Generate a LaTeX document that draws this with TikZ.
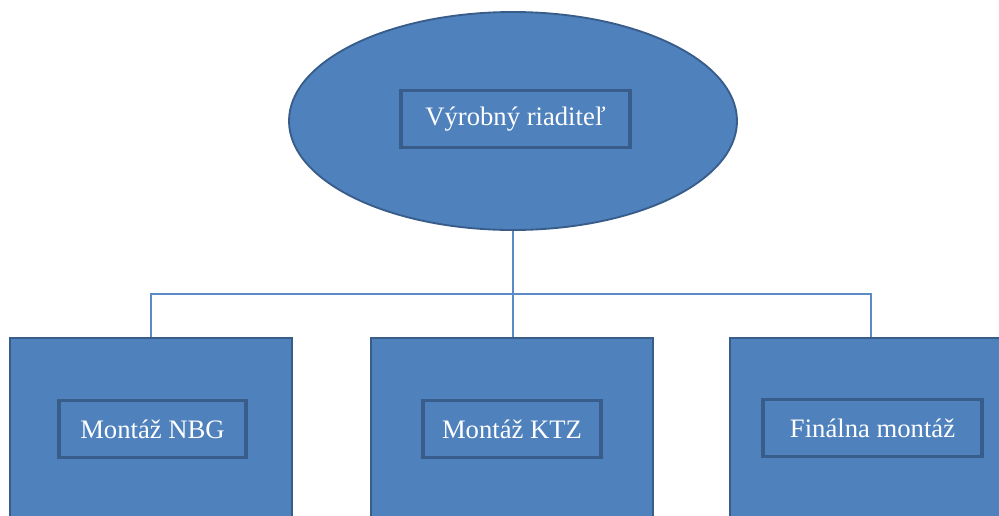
\documentclass[tikz,border=0pt]{standalone}
\usepackage{fontspec}
\setmainfont{Liberation Serif}
\usetikzlibrary{shapes.geometric}
\definecolor{fillblue}{HTML}{4F81BD}
\definecolor{edgeblue}{HTML}{385D8A}
\definecolor{lineblue}{HTML}{5B8AC6}
\tikzset{
  outerbox/.style={draw=edgeblue, line width=1.6pt, fill=fillblue, minimum width=211.5pt, minimum height=166.5pt, inner sep=0pt},
  headell/.style={ellipse, draw=edgeblue, line width=1.4pt, fill=fillblue, minimum width=336pt, minimum height=163.5pt, inner sep=0pt},
  labelbox/.style={draw=edgeblue, line width=2.4pt, fill=fillblue, text=white, minimum height=43pt, inner sep=0pt, font=\fontsize{20}{24}\selectfont},
  conn/.style={draw=lineblue, line width=1pt}
}
\begin{document}
\begin{tikzpicture}[x=0.75pt,y=-0.75pt]
\useasboundingbox (0,0) rectangle (999,515);
\clip (0,0) rectangle (999,515);
\node[headell] (ell) at (513,121) {};
\node[outerbox] (left) at (151,449) {};
\node[outerbox] (mid) at (512,449) {};
\node[outerbox] (right) at (871,449) {};
\coordinate (j) at (513,294);
\draw[conn] (ell.south) -- (ell.south |- mid.north);
\draw[conn] (j) -| (left.north);
\draw[conn] (j) -| (right.north);
\node[labelbox, minimum width=171.75pt] (top) at (515.5,119) {Výrobný riaditeľ};
\node[labelbox, minimum width=140.25pt] (nbg) at (152.5,429) {Montáž NBG};
\node[labelbox, minimum width=133.5pt] (ktz) at (512,429) {Montáž KTZ};
\node[labelbox, minimum width=164.25pt] (fin) at (872.5,428) {Finálna montáž};
\end{tikzpicture}
\end{document}
